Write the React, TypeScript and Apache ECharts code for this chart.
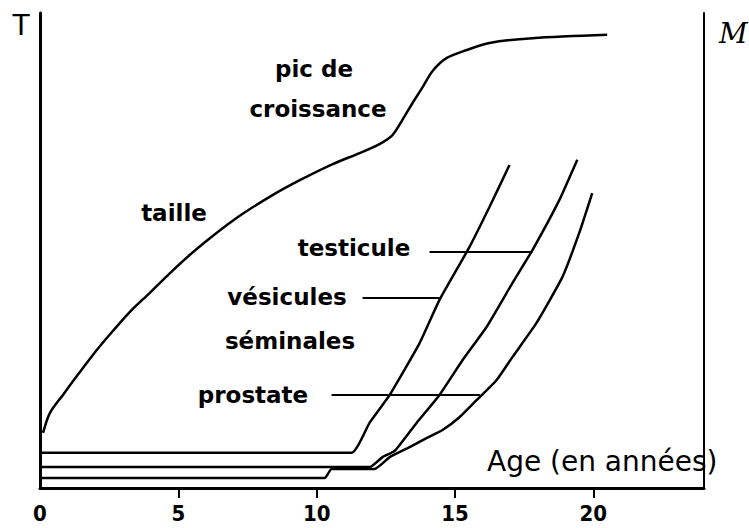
import React, { useEffect, useRef } from "react";
import * as echarts from "echarts";

// Age (years) on x, relative size (0-100) on y
const xTickValues = [5, 10, 15, 20];
const xLabelValues = [0, 5, 10, 15, 20];

const tailleData: [number, number][] = [
  [0.11, 11.6], [0.36, 15.8], [0.83, 19.6], [1.44, 24.4], [2.06, 29.1],
  [2.64, 33.1], [3.25, 37.1], [3.97, 41.1], [4.69, 45.2], [5.42, 49.1],
  [6.14, 52.6], [7.22, 57.3], [8.3, 61.3], [9.39, 64.8], [10.58, 68.2],
  [11.55, 70.5], [12.27, 72.4], [12.74, 74.3], [13.1, 77.5], [13.47, 81.1],
  [13.83, 84.4], [14.19, 87.8], [14.69, 90.5], [15.42, 92.2], [16.25, 93.7],
  [17.8, 94.7], [20.5, 95.4],
];

const vesiculesData: [number, number][] = [
  [0, 7.4], [11.26, 7.4], [11.91, 13.7], [12.64, 19.6], [13.72, 30.5],
  [14.44, 39.6], [15.52, 50.7], [16.25, 59.2], [16.97, 68.0],
];

const testiculeData: [number, number][] = [
  [0, 4.4], [11.91, 4.4], [12.38, 6.5], [12.82, 7.8], [13.61, 13.7],
  [14.44, 19.6], [15.27, 26.9], [16.14, 33.9], [17.08, 43.2], [17.8, 50.1],
  [18.77, 60.6], [19.42, 69.1],
];

const prostateData: [number, number][] = [
  [0, 2.1], [10.29, 2.1], [10.54, 4.0], [12.09, 4.0], [12.64, 6.5],
  [13.36, 8.6], [13.97, 10.5], [14.55, 12.2], [15.16, 14.9], [15.78, 18.5],
  [16.5, 22.7], [17.08, 27.6], [17.94, 34.7], [18.88, 44.4], [19.49, 53.7],
  [19.96, 62.1],
];

// leader lines from labels to curves
const testiculeLeader: [number, number][] = [[14.08, 49.7], [17.8, 49.7]];
const vesiculesLeader: [number, number][] = [[11.66, 40.0], [14.44, 40.0]];
const prostateLeader: [number, number][] = [[10.54, 19.6], [15.9, 19.6]];

const labelFont = "'DejaVu Sans', sans-serif";

export default function App() {
  const ref = useRef<HTMLDivElement>(null);
  useEffect(() => {
    if (!ref.current) return;
    const chart = echarts.init(ref.current, undefined, { renderer: "svg" });
    const lineStyle = { color: "#000", width: 2.5 };
    const mkLine = (name: string, data: [number, number][], smooth: number | boolean = false, width = 2.5) => ({
      name,
      type: "line",
      data,
      showSymbol: false,
      symbol: "none",
      smooth,
      lineStyle: { ...lineStyle, width },
      silent: true,
    });
    const txt = (text: string, x: number, y: number, size = 23, extra: any = {}) => ({
      type: "text",
      x,
      y,
      style: {
        text,
        fontSize: size,
        fontWeight: "bold",
        fontFamily: labelFont,
        fill: "#000",
        align: "center",
        verticalAlign: "middle",
        ...extra,
      },
    });
    chart.setOption({
      animation: false,
      backgroundColor: "#fff",
      grid: { left: 40, right: 45, top: 13, bottom: 40 },
      xAxis: {
        type: "value",
        min: 0,
        max: 24,
        interval: 5,
        axisLine: { show: true, onZero: false, lineStyle: { color: "#000", width: 3 } },
        axisTick: {
          show: true,
          inside: false,
          length: 10,
          customValues: xTickValues,
          lineStyle: { color: "#000", width: 2 },
        },
        axisLabel: {
          customValues: xLabelValues,
          margin: 14,
          color: "#000",
          fontSize: 22,
          fontWeight: "bold",
          fontFamily: "'DejaVu Sans Condensed', sans-serif",
        },
        splitLine: { show: false },
      },
      yAxis: [
        {
          type: "value",
          min: 0,
          max: 100,
          position: "left",
          axisLine: { show: true, lineStyle: { color: "#000", width: 3 } },
          axisTick: { show: false },
          axisLabel: { show: false },
          splitLine: { show: false },
        },
        {
          type: "value",
          min: 0,
          max: 100,
          position: "right",
          axisLine: { show: true, lineStyle: { color: "#000", width: 2 } },
          axisTick: { show: false },
          axisLabel: { show: false },
          splitLine: { show: false },
        },
      ],
      series: [
        mkLine("taille", tailleData, 0.3),
        mkLine("vésicules séminales", vesiculesData, 0.15),
        mkLine("testicule", testiculeData, 0.15),
        mkLine("prostate", prostateData, 0.15),
        mkLine("leader testicule", testiculeLeader, false, 2),
        mkLine("leader vésicules", vesiculesLeader, false, 2),
        mkLine("leader prostate", prostateLeader, false, 2),
      ],
      graphic: [
        txt("T", 21, 25, 28, { fontWeight: "normal" }),
        txt("M", 719, 33, 28, { align: "left", fontStyle: "italic", fontWeight: "normal", fontFamily: "'DejaVu Serif', serif" }),
        txt("pic de", 314, 69),
        txt("croissance", 318, 109),
        txt("taille", 174, 213),
        txt("testicule", 354, 248),
        txt("vésicules", 287, 297),
        txt("séminales", 290, 341),
        txt("prostate", 253, 395),
        txt("Age (en années)", 487, 461, 28, { align: "left", fontWeight: "normal" }),
      ],
    });
    return () => chart.dispose();
  }, []);
  return (
    <div
      ref={ref}
      style={{ position: "fixed", left: 0, top: 0, width: 749, height: 528, background: "#fff" }}
    />
  );
}
